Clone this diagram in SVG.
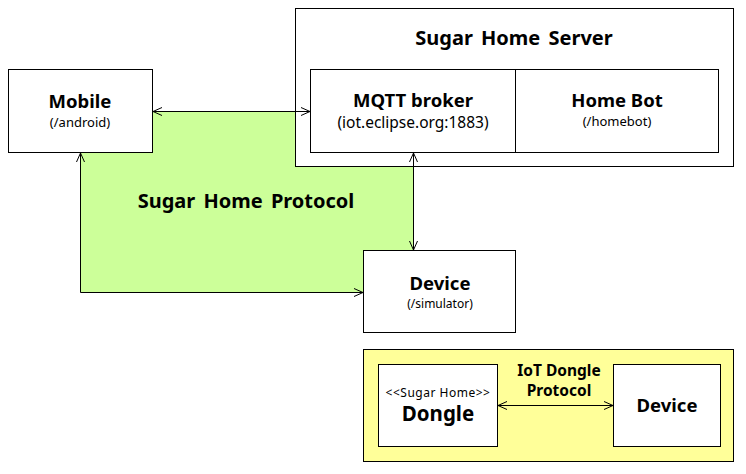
<svg xmlns="http://www.w3.org/2000/svg" width="746" height="474" viewBox="0 0 746 474">
<defs>
<style>
.box{fill:#ffffff;stroke:#000;stroke-width:1}
.t{font-family:"Noto Sans","Liberation Sans",sans-serif;text-anchor:middle;fill:#000}
.b{font-weight:bold}
.ln{fill:none;stroke:#000;stroke-width:1}
</style>
<marker id="ah" viewBox="0 0 10 10" refX="10" refY="5" markerWidth="10" markerHeight="10" markerUnits="userSpaceOnUse" orient="auto-start-reverse">
<path d="M1,1 L10,5 L1,9" fill="none" stroke="#000" stroke-width="1"/>
</marker>
</defs>
<rect width="746" height="474" fill="#fff"/>
<g id="protocol-area">
<polygon points="80,111 413,111 413,250 363,250 363,292 80,292" fill="#ccff99"/>
<text class="t b" x="246" y="208" font-size="20" word-spacing="3">Sugar Home Protocol</text>
</g>
<g id="mobile">
<rect class="box" x="8.5" y="69.5" width="144" height="83"/>
<text class="t b" x="80" y="108" font-size="18.5">Mobile</text>
<text class="t" x="80" y="127" font-size="13">(/android)</text>
</g>
<g id="server">
<rect class="box" x="295.5" y="8.5" width="438" height="158"/>
<text class="t b" x="514" y="45" font-size="20" word-spacing="3">Sugar Home Server</text>
</g>
<g id="mqtt">
<rect class="box" x="310.5" y="69.5" width="205" height="83"/>
<text class="t b" x="413" y="107" font-size="18.5">MQTT broker</text>
<text class="t" x="413" y="128" font-size="15.5">(iot.eclipse.org:1883)</text>
</g>
<g id="homebot">
<rect class="box" x="515.5" y="69.5" width="203" height="83"/>
<text class="t b" x="617" y="107" font-size="18.5">Home Bot</text>
<text class="t" x="617" y="126" font-size="13">(/homebot)</text>
</g>
<g id="device">
<rect class="box" x="363.5" y="250.5" width="152" height="82"/>
<text class="t b" x="440" y="290" font-size="18.5">Device</text>
<text class="t" x="440" y="308" font-size="12">(/simulator)</text>
</g>
<g id="dongle-area">
<rect x="363.5" y="349.5" width="370" height="112" fill="#ffff99" stroke="#000"/>
<text class="t b" x="559" y="376" font-size="15.5">IoT Dongle</text>
<text class="t b" x="559" y="396" font-size="15.5">Protocol</text>
</g>
<g id="dongle">
<rect class="box" x="378.5" y="364.5" width="119" height="82"/>
<text class="t" x="438" y="397" font-size="12" letter-spacing="0.5">&lt;&lt;Sugar Home&gt;&gt;</text>
<text class="t b" x="438" y="421" font-size="20.5">Dongle</text>
</g>
<g id="device2">
<rect class="box" x="613.5" y="364.5" width="107" height="82"/>
<text class="t b" x="667" y="412" font-size="18.5">Device</text>
</g>
<g id="connectors">
<path class="ln" d="M153,111.5 H310" marker-start="url(#ah)" marker-end="url(#ah)"/>
<path class="ln" d="M80.5,153 V292.5 H363" marker-start="url(#ah)" marker-end="url(#ah)"/>
<path class="ln" d="M413.5,153 V250" marker-start="url(#ah)" marker-end="url(#ah)"/>
<path class="ln" d="M498,405.5 H613" marker-start="url(#ah)" marker-end="url(#ah)"/>
</g>
</svg>
